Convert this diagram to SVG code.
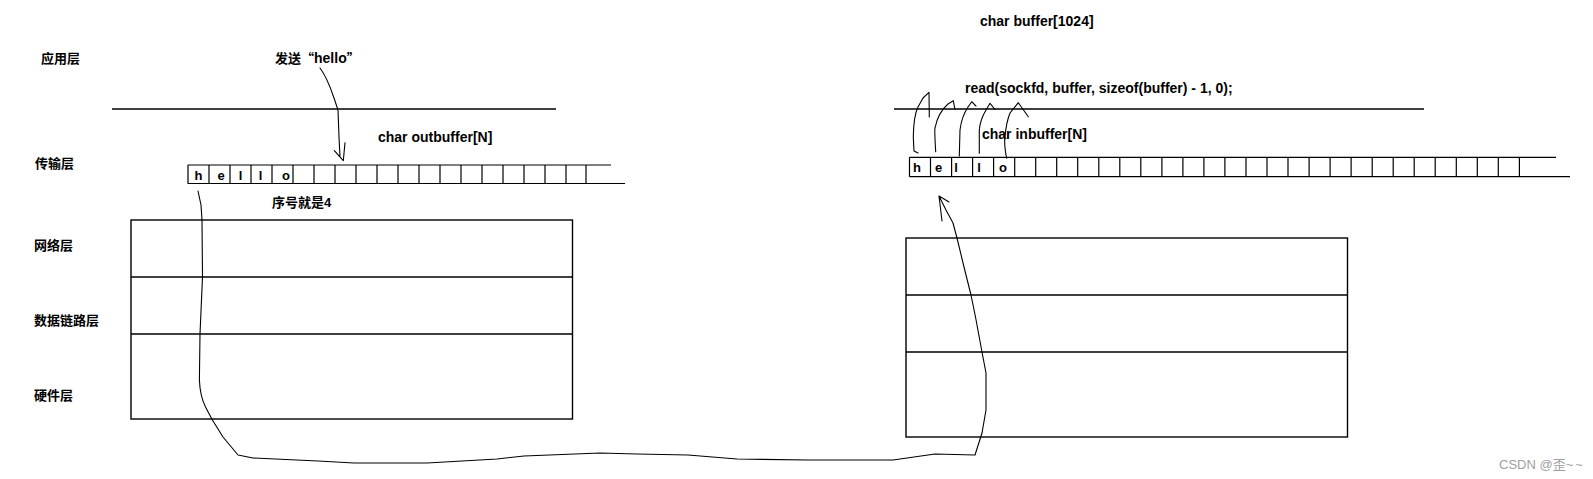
<svg xmlns="http://www.w3.org/2000/svg" width="1593" height="479" viewBox="0 0 1593 479">
<style>
.t{font-family:"Liberation Sans","Noto Sans CJK SC",sans-serif;font-weight:bold;fill:#000}
.zh{font-size:13px}
.en{font-size:14px}
.q{font-family:"Noto Sans CJK SC",sans-serif}
.c{font-size:13px;text-anchor:middle}
.ln{stroke:#000;stroke-width:1.4;fill:none}
.cell{stroke:#000;stroke-width:1.2;fill:none}
.hd{stroke:#000;stroke-width:1.1;fill:none;stroke-linejoin:round;stroke-linecap:round}
.wm{font-family:"Liberation Sans","Noto Sans CJK SC",sans-serif;font-size:13px;fill:#a0a0a0}
</style>
<rect width="1593" height="479" fill="#fff"/>

<g id="layer-labels">
<text class="t zh" x="41" y="62.5">应用层</text>
<text class="t zh" x="35" y="167.5">传输层</text>
<text class="t zh" x="34" y="249.5">网络层</text>
<text class="t zh" x="34" y="324.5">数据链路层</text>
<text class="t zh" x="34" y="399.5">硬件层</text>
</g>

<g id="send-label"><text class="t zh" x="275" y="62.5">发送<tspan class="q">“</tspan><tspan font-size="14">hello</tspan><tspan class="q">”</tspan></text></g>
<g id="left-app-line"><line class="ln" x1="112" y1="109" x2="556" y2="109"/></g>
<g id="outbuffer-label"><text class="t en" x="378" y="142">char outbuffer[N]</text></g>

<g id="outbuffer">
<path class="cell" d="M187.7,165 H611 M187.7,183.5 H625 M188,165 V183.5 M209,165 V183.5 M230,165 V183.5 M251,165 V183.5 M272,165 V183.5 M293,165 V183.5 M314,165 V183.5 M335,165 V183.5 M356,165 V183.5 M377,165 V183.5 M398,165 V183.5 M419,165 V183.5 M440,165 V183.5 M461,165 V183.5 M482,165 V183.5 M503,165 V183.5 M524,165 V183.5 M545,165 V183.5 M566,165 V183.5 M586,165 V183.5"/>
<text class="t c" x="198.5" y="179.5">h</text>
<text class="t c" x="221" y="179.5">e</text>
<text class="t c" x="240.5" y="179.5">l</text>
<text class="t c" x="260.5" y="179.5">l</text>
<text class="t c" x="286" y="179.5">o</text>
</g>

<g id="seq-label"><text class="t zh" x="272" y="206.5">序号就是4</text></g>

<g id="left-stack">
<rect class="ln" x="131" y="220" width="441.5" height="199"/>
<line class="ln" x1="131" y1="277" x2="572.5" y2="277"/>
<line class="ln" x1="131" y1="334" x2="572.5" y2="334"/>
</g>

<g id="buffer-label"><text class="t en" x="980" y="26">char buffer[1024]</text></g>
<g id="read-label"><text class="t en" x="965" y="93">read(sockfd, buffer, sizeof(buffer) - 1, 0);</text></g>
<g id="right-app-line"><line class="ln" x1="894" y1="109" x2="1424" y2="109"/></g>
<g id="inbuffer-label"><text class="t en" x="982" y="139">char inbuffer[N]</text></g>

<g id="inbuffer">
<path class="cell" d="M909.5,157.3 H1556 M909.5,176.7 H1570 M909.5,157.3 V176.7 M930.5,157.3 V176.7 M951.6,157.3 V176.7 M972.6,157.3 V176.7 M993.6,157.3 V176.7 M1014.7,157.3 V176.7 M1035.7,157.3 V176.7 M1056.7,157.3 V176.7 M1077.7,157.3 V176.7 M1098.8,157.3 V176.7 M1119.8,157.3 V176.7 M1140.8,157.3 V176.7 M1161.9,157.3 V176.7 M1182.9,157.3 V176.7 M1203.9,157.3 V176.7 M1224.9,157.3 V176.7 M1246,157.3 V176.7 M1267,157.3 V176.7 M1288,157.3 V176.7 M1309.1,157.3 V176.7 M1330.1,157.3 V176.7 M1351.1,157.3 V176.7 M1372.2,157.3 V176.7 M1393.2,157.3 V176.7 M1414.2,157.3 V176.7 M1435.2,157.3 V176.7 M1456.3,157.3 V176.7 M1477.3,157.3 V176.7 M1498.3,157.3 V176.7 M1519.4,157.3 V176.7"/>
<text class="t c" x="917" y="172">h</text>
<text class="t c" x="938.5" y="172">e</text>
<text class="t c" x="956" y="172">l</text>
<text class="t c" x="979" y="172">l</text>
<text class="t c" x="1003" y="172">o</text>
</g>

<g id="right-stack">
<rect class="ln" x="906" y="238" width="441.5" height="199"/>
<line class="ln" x1="906" y1="295" x2="1347.5" y2="295"/>
<line class="ln" x1="906" y1="352" x2="1347.5" y2="352"/>
</g>

<g id="connectors">
<path class="hd" d="M320,68 C326,76 330,86 334,98 L338,110 L339,137 L340,157 L343.3,160.7 M334.3,150.7 L343.3,160.7 L345,142.7"/>
<path class="hd" d="M198,191 L201,205 L202,220 L202.5,277 L200,334 L199.4,380 C200,395 203,402 205.5,407 L212.4,420 L223,437 L238,455 L253,458 L318,461 L354,463 L427,463 L497,459 L524,456 L600,453 L637,454 L688,455 L737,459 L808,460 L893,460 L935,454 L975,455 L982,433 L986,410 L986,373 L982,352 L975.5,317 L971,295 L964,267 L957,238 L953,223 L946,210 L939,196 M942,221 L939,196 L949,202"/>
<path class="hd" d="M918,153 L914,151 L913.3,137 C913.5,125 914,115 918,107 L923,98 L929,92.3 L929.3,117"/>
<path class="hd" d="M935.7,151.7 C935,140 934.5,130 935,128 C937,118 941,110 948,104 L953.3,100.7 L955,109.5"/>
<path class="hd" d="M959.3,156 L960,130 C961,122 964,113 968,107 L971.7,101.7 L976,106"/>
<path class="hd" d="M979.3,153.3 L979.3,130 C980,122 983,115 986,110 L990,103.3 L995,109.5"/>
<path class="hd" d="M1006.7,158.3 C1005,150 1004.5,140 1005,136.7 C1006,125 1008,118 1010,113 L1018.3,102.7 L1028.3,116.7"/>
</g>

<g id="watermark"><text class="wm" x="1499" y="469">CSDN @歪<tspan letter-spacing="2">~~</tspan></text></g>
</svg>
